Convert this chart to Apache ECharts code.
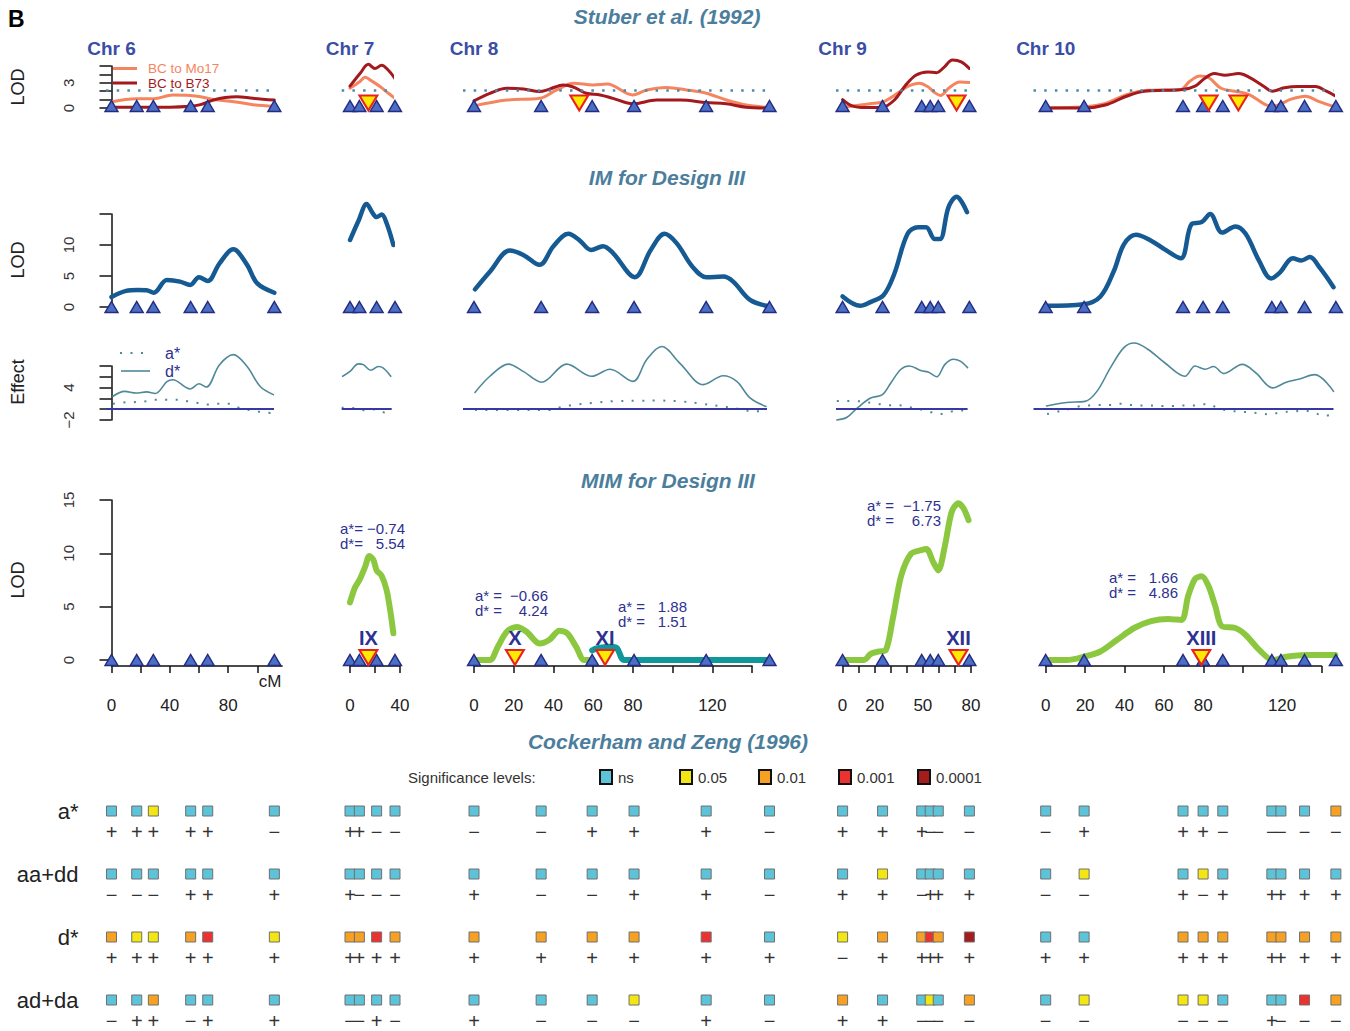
<!DOCTYPE html>
<html>
<head>
<meta charset="utf-8">
<title>QTL profiles, chromosomes 6-10</title>
<script src="https://cdn.jsdelivr.net/npm/echarts@6.0.0/dist/echarts.min.js"></script>
<style>
html, body { margin: 0; padding: 0; background: #ffffff; }
#chart { width: 1350px; height: 1031px; }
</style>
</head>
<body>
<div id="chart"></div>
<script>
// ---------------------------------------------------------------------------
// Data: marker positions (cM) per chromosome
// ---------------------------------------------------------------------------
const chromosomes = ['Chr 6', 'Chr 7', 'Chr 8', 'Chr 9', 'Chr 10'];

const markersChr6 = [0, 17.3, 28.7, 54.3, 66, 111.7];
const markersChr7 = [0, 7.5, 21.3, 36];
const markersChr8 = [0, 33.8, 59.5, 80.6, 116.9, 148.8];
const markersChr9 = [0, 24.9, 49.3, 54.6, 59.6, 79];
const markersChr10 = [0, 19.5, 69.7, 79.9, 89.9, 114.8, 119.4, 131.4, 147.3];

// Stuber et al. (1992): LOD profiles for the two backcrosses
const stuberThreshold = 2.1;
const mo17Chr6 = [[0,0.75],[17,1.1],[29,1.1],[42,1.55],[54,1.5],[61,1.35],[70,1.0],[84,0.75],[97,0.4],[111.7,0.2]];
const b73Chr6 = [[0,0.1],[20,0.1],[40,0.1],[54,0.2],[61,0.4],[70,0.95],[78,1.25],[86,1.35],[97,1.15],[111.7,0.95]];
const mo17Chr7 = [[0,2.35],[8,3.15],[12,3.65],[16,3.35],[24,2.55],[30.7,1.75],[36,1.15]];
const b73Chr7 = [[0,2.6],[8,4.1],[14.7,5.2],[20,4.7],[25.3,5.1],[30.7,4.5],[36,3.5]];
const mo17Chr8 = [[0,0.25],[16.5,0.95],[33,1.15],[41.7,2.15],[50,2.95],[60,2.75],[67,2.85],[80,1.55],[87,2.15],[97,2.45],[107,2.15],[117,1.75],[127,0.95],[137,0.35],[148.6,0.05]];
const b73Chr8 = [[0,0.85],[8,1.75],[16.5,2.35],[25,2.25],[33,1.95],[38,2.25],[45,2.75],[50,2.5],[56.5,1.75],[63.5,1.55],[70,1.15],[80,0.5],[92,0.95],[104,0.95],[117,0.65],[127,0.5],[137,0.1],[148.6,0.0]];
const mo17Chr9 = [[0,0.1],[17,0.5],[26,0.8],[34.6,1.8],[41,2.6],[47.8,2.95],[53,2.55],[57.6,1.8],[61,1.5],[66.4,2.4],[73,3.1],[79,3.05]];
const b73Chr9 = [[0,1.0],[6,0.25],[14,0.05],[25,0.1],[32.5,1.0],[39,2.65],[45.6,3.9],[53,4.3],[58.5,4.2],[63,4.8],[68.4,5.7],[73.9,5.5],[79,4.7]];
const mo17Chr10 = [[0,0],[19.6,0.15],[30.3,0.55],[41,1.6],[51.6,2.1],[68.5,2.2],[73,3.15],[78.3,3.8],[82.8,3.6],[89,2.35],[96,2.0],[103.3,1.6],[112.2,0.35],[115.7,0.25],[124.6,1.05],[131.8,1.4],[138.9,0.75],[146.3,0.15]];
const b73Chr10 = [[0,0],[19.6,0],[30.3,0.35],[41,1.4],[50,2.0],[60.7,2.1],[69.6,2.2],[75.8,2.6],[80.3,3.45],[85.6,4.1],[91,3.9],[98,4.1],[103.4,3.65],[110.6,2.6],[115,2.0],[121.2,2.4],[128.2,2.55],[137,2.55],[142.5,2.0],[147.3,1.4]];
const stuberQtlChr6 = [];
const stuberQtlChr7 = [14.7];
const stuberQtlChr8 = [53];
const stuberQtlChr9 = [71];
const stuberQtlChr10 = [82.7, 97.8];

// Interval mapping (IM) for Design III: LOD profiles
const imChr6 = [[0,1.6],[10,2.6],[18,2.75],[24,2.7],[29,2.3],[38,4.35],[47,4.1],[54,3.55],[60,4.8],[66,4.2],[74,7.0],[83.5,9.3],[93,6.8],[100,3.8],[111.7,2.3]];
const imChr7 = [[0,10.8],[7,14],[13.3,16.6],[18,15.2],[21.3,14.5],[25.3,14.9],[29.3,13.5],[34.7,10.0]];
const imChr8 = [[0.5,2.85],[8,5.7],[18,9.1],[24.8,8.4],[33,6.8],[40,9.8],[47.5,11.8],[53,10.8],[59,9.2],[65,9.8],[70,8.7],[81,4.8],[89,9.2],[96,11.8],[102,10.3],[110,6.5],[117,4.8],[125.5,4.9],[130.5,4.1],[139,1.15],[148,0.15]];
const imChr9 = [[0,1.7],[11,0.2],[17,0.75],[25.6,1.95],[32,5.2],[40.5,11.8],[47,12.85],[52,12.85],[57.5,10.95],[60.7,10.95],[66,16.1],[71,17.8],[77.5,15.3]];
const imChr10 = [[0,0.2],[19.2,0.45],[27.8,1.7],[34.6,5.8],[39.7,10.1],[45.8,11.65],[53.5,10.7],[60.4,9.3],[68.6,7.85],[74.1,13.4],[79.2,13.7],[83.5,15.0],[89.5,12.0],[96.3,13.0],[101.5,11.8],[108.4,7.4],[114.4,4.6],[118.7,5.5],[125.5,7.85],[129.8,7.5],[134.1,8.05],[139.2,6.3],[146.1,3.2]];

// IM effect estimates: dominance (d*) and additive (a*)
const dStarChr6 = [[1,2.4],[9,3.3],[17,3.0],[24,3.2],[30,2.9],[38,5.1],[42,5.45],[54,3.75],[60,4.7],[65,4.1],[74,8.2],[83.5,10.1],[93,7.9],[102,4.2],[111,2.7]];
const aStarChr6 = [[1,1.0],[8,1.25],[15,1.3],[23,1.45],[30,1.75],[38,1.75],[45,1.75],[53,1.45],[59.5,1.15],[66,0.85],[74,1.0],[81,1.0],[88,0.2],[96,-0.2],[104,-0.6],[111,-0.7]];
const dStarChr7 = [[0.7,6.1],[6,7.0],[12,8.4],[15.6,8.25],[21,7.2],[26.4,7.9],[30,7.6],[35.3,6.1]];
const aStarChr7 = [[0,0.25],[8,0.2],[17,-0.2],[25,0.0],[32,-0.7],[35,-0.4]];
const dStarChr8 = [[0.5,3.1],[8,6.1],[17.3,8.35],[24.8,7.0],[34,5.0],[46.7,8.35],[59.3,6.1],[68.5,7.4],[80,5.15],[87,9.2],[94.5,11.6],[103.7,8.5],[115.5,4.55],[125.5,6.2],[132.3,5.15],[139,2.1],[147,0.5]];
const aStarChr8 = [[0.5,-0.15],[20,-0.15],[38,-0.15],[44,0.4],[50,0.8],[60,1.15],[71,1.5],[82,1.55],[93,1.6],[104,1.45],[115,1.0],[125,0.5],[131,0.2],[141.5,-0.4],[146.5,-0.4]];
const dStarChr9 = [[0.5,-2.0],[6.6,-1.5],[12.7,0.2],[20.8,2.06],[27.9,2.7],[33,4.9],[39,7.4],[44,8.0],[51.3,7.1],[55.3,6.9],[60.4,6.0],[65.4,8.3],[70.5,9.25],[74.6,8.9],[79,7.7]];
const aStarChr9 = [[0.5,1.5],[11.7,1.5],[24.9,1.0],[31,0.75],[37.5,0.75],[43.6,0.4],[50.3,0],[55.8,-0.45],[62.4,-0.9],[69,-0.45],[75.6,-0.25],[79,-0.3]];
const dStarChr10 = [[0.4,0.6],[10.6,1.25],[20,1.45],[26,3.3],[32.9,7.7],[39.7,11.4],[44.9,12.25],[51.8,11.1],[60.4,8.6],[70.7,6.1],[75.8,8.0],[80.9,7.4],[85.2,7.9],[90.4,6.6],[99.8,8.3],[106.6,6.75],[115.2,3.95],[122.1,5.0],[128.9,5.6],[136.6,6.4],[146.1,3.3]];
const aStarChr10 = [[0.7,-0.9],[6.3,-0.44],[11.5,0],[16.6,0.5],[21.8,0.7],[26.9,0.8],[32.9,0.8],[38.1,1.0],[43.2,0.8],[49.2,0.7],[54.4,0.7],[60,0.6],[65.5,0.6],[70.7,0.7],[76.6,0.7],[82.3,1.0],[87.5,0.2],[92.9,-0.25],[98.1,-0.44],[103.2,-0.56],[108.4,-0.75],[113.5,-0.95],[119.5,-0.56],[125.2,-0.44],[130.7,-0.25],[135.8,-0.6],[141,-1.2],[146,-1.0]];

// Multiple interval mapping (MIM) for Design III: LOD profiles and QTL
const mimChr6 = [];
const mimChr7 = [[0,5.4],[4,6.8],[8,7.6],[12,8.7],[15.5,9.75],[18.7,9.4],[21.3,8.4],[25.3,7.9],[29.3,6.55],[32.5,4.4],[34.7,2.5]];
const mimChr8 = [[0,0],[8,0],[12,1.25],[16.5,2.65],[21.5,3.1],[26.5,2.65],[33,1.55],[38,1.9],[43,2.75],[47,2.5],[51.4,1.25],[55.5,0],[59.5,0]];
const mimChr8Second = [[59.5,0.9],[62,1.1],[68.5,1.25],[72,1.1],[75.5,0],[90,0],[120,0],[149,0]];
const mimChr9 = [[0,0],[13.3,0],[17.5,0.57],[22.7,0.8],[27,0.95],[31.2,3.8],[36.5,7.9],[42.7,9.97],[49.1,10.3],[52.2,10.4],[56.4,9.2],[59.6,8.4],[63.8,10.75],[68,13.9],[72.2,14.7],[75.4,14.2],[78.5,13.1]];
const mimChr10 = [[0,0],[10.6,0],[19.2,0.3],[27.8,0.8],[36.3,1.9],[44.9,3.0],[53.5,3.65],[62.1,3.85],[68.9,3.75],[72.3,6.0],[75.8,7.6],[79.2,7.85],[82.6,6.95],[86.1,5.05],[89.5,3.15],[96.3,3.0],[101.5,2.35],[108.4,0.95],[115.2,0],[122.1,0.3],[132.4,0.47],[147,0.47]];
const mimQtlChr6 = [];
const mimQtlChr7 = [14.7];
const mimQtlChr8 = [20.6, 66];
const mimQtlChr9 = [72.2];
const mimQtlChr10 = [79];
const mimQtlNamesChr7 = ['IX'];
const mimQtlNamesChr8 = ['X', 'XI'];
const mimQtlNamesChr9 = ['XII'];
const mimQtlNamesChr10 = ['XIII'];
const qtlAStar = ['\u22120.74', '\u22120.66', '1.88', '\u22121.75', '1.66'];
const qtlDStar = ['5.54', '4.24', '1.51', '6.73', '4.86'];

// Cockerham and Zeng (1996): significance level and sign per marker
const sigRows = ['a*', 'aa+dd', 'd*', 'ad+da'];
const sigLevels = ['ns', '0.05', '0.01', '0.001', '0.0001'];
const sigChr6 = [
  ['ns','ns','0.05','ns','ns','ns'],
  ['ns','ns','ns','ns','ns','ns'],
  ['0.01','0.05','0.05','0.01','0.001','0.05'],
  ['ns','ns','0.01','ns','ns','ns']];
const signsChr6 = ['+++++\u2212', '\u2212\u2212\u2212+++', '++++++', '\u2212++\u2212++'];
const sigChr7 = [
  ['ns','ns','ns','ns'],
  ['ns','ns','ns','ns'],
  ['0.01','0.01','0.001','0.01'],
  ['ns','ns','ns','ns']];
const signsChr7 = ['++\u2212\u2212', '+\u2212\u2212\u2212', '++++', '\u2212\u2212+\u2212'];
const sigChr8 = [
  ['ns','ns','ns','ns','ns','ns'],
  ['ns','ns','ns','ns','ns','ns'],
  ['0.01','0.01','0.01','0.01','0.001','ns'],
  ['ns','ns','ns','0.05','ns','ns']];
const signsChr8 = ['\u2212\u2212+++\u2212', '+\u2212\u2212++\u2212', '++++++', '+\u2212\u2212\u2212+\u2212'];
const sigChr9 = [
  ['ns','ns','ns','ns','ns','ns'],
  ['ns','0.05','ns','ns','ns','ns'],
  ['0.05','0.01','0.01','0.001','0.01','0.0001'],
  ['0.01','ns','ns','0.05','ns','0.01']];
const signsChr9 = ['+++\u2212\u2212\u2212', '++\u2212+++', '\u2212+++++', '++\u2212\u2212\u2212\u2212'];
const sigChr10 = [
  ['ns','ns','ns','ns','ns','ns','ns','ns','0.01'],
  ['ns','0.05','ns','0.05','ns','ns','ns','ns','ns'],
  ['ns','ns','0.01','0.01','0.01','0.01','0.01','0.01','0.01'],
  ['ns','0.05','0.05','0.05','ns','ns','ns','0.001','0.01']];
const signsChr10 = ['\u2212+++\u2212\u2212\u2212\u2212\u2212', '\u2212\u2212+\u2212+++++', '+++++++++', '\u2212\u2212\u2212\u2212\u2212+\u2212\u2212\u2212'];

// Axis ticks and tick labels
const cmTicksChr6 = [0, 20, 40, 60, 80, 100];
const cmTicksChr7 = [0, 20, 40];
const cmTicksChr8 = [0, 20, 40, 60, 80, 100, 120, 140];
const cmTicksChr9 = [0, 10, 20, 30, 40, 50, 60, 70, 80];
const cmTicksChr10 = [0, 20, 40, 60, 80, 100, 120, 140];
const cmLabelsChr6 = [0, 40, 80];
const cmLabelsChr7 = [0, 40];
const cmLabelsChr8 = [0, 20, 40, 60, 80, 120];
const cmLabelsChr9 = [0, 20, 50, 80];
const cmLabelsChr10 = [0, 20, 40, 60, 80, 120];
const stuberTicks = [0, 1, 2, 3, 4, 5];
const stuberLabels = [0, 3];
const imTicks = [0, 5, 10, 15];
const imLabels = [0, 5, 10];
const effectTicks = [-2, 0, 2, 4, 6, 8];
const effectLabels = [-2, 4];
const mimTicks = [0, 5, 10, 15];
const mimLabels = [0, 5, 10, 15];

// ---------------------------------------------------------------------------
// Styling and layout
// ---------------------------------------------------------------------------
const FONT = '"Liberation Sans", Arial, Helvetica, sans-serif';
const COL = {
  mo17: '#f4855f', b73: '#a3191d', thr: '#4c89a8',
  im: '#165a93', eff: '#4f8899', zero: '#3838a4',
  mim: '#8cc83f', mim2: '#10979a',
  markFill: '#4b6fc3', markLine: '#232b83',
  qtlFill: '#ffea00', qtlLine: '#e8231f',
  navy: '#2d3190', chr: '#3b4da5', head: '#4b7e9c', axis: '#111111', tick: '#222222'
};
const SIG_COLOR = { 'ns': '#5cc3d8', '0.05': '#f3e612', '0.01': '#f5a124', '0.001': '#ec3131', '0.0001': '#a41c1c' };

// per-chromosome horizontal scale: x0 = pixel of 0 cM, s = pixels per cM
const columns = [
  { x0: 111.5, s: 1.458, axisMax: 117, effLeft: 106, effRight: 274, effMin: null, effMax: null },
  { x0: 350, s: 1.25, axisMax: 40, effLeft: 341.7, effRight: 391.7, effMin: 0, effMax: 36 },
  { x0: 474, s: 1.986, axisMax: 140, effLeft: 463, effRight: 767, effMin: null, effMax: null },
  { x0: 842.6, s: 1.605, axisMax: 80, effLeft: 836, effRight: 967.6, effMin: 0, effMax: 79 },
  { x0: 1045.7, s: 1.97, axisMax: 140, effLeft: 1033.5, effRight: 1333.5, effMin: null, effMax: null }
];
const rows = {
  stuber: { top: 66, bottom: 108 },
  im: { top: 214, bottom: 307 },
  effect: { top: 366, bottom: 420 },
  mim: { top: 500, bottom: 660 },
  sig: { top: 811, bottom: 1000 }
};

const colData = [
  { markers: markersChr6, mo17: mo17Chr6, b73: b73Chr6, sQtl: stuberQtlChr6, im: imChr6, d: dStarChr6, a: aStarChr6, mim: mimChr6, mim2: null, mQtl: mimQtlChr6, mNames: [], sig: sigChr6, signs: signsChr6, ticks: cmTicksChr6, labels: cmLabelsChr6 },
  { markers: markersChr7, mo17: mo17Chr7, b73: b73Chr7, sQtl: stuberQtlChr7, im: imChr7, d: dStarChr7, a: aStarChr7, mim: mimChr7, mim2: null, mQtl: mimQtlChr7, mNames: mimQtlNamesChr7, sig: sigChr7, signs: signsChr7, ticks: cmTicksChr7, labels: cmLabelsChr7 },
  { markers: markersChr8, mo17: mo17Chr8, b73: b73Chr8, sQtl: stuberQtlChr8, im: imChr8, d: dStarChr8, a: aStarChr8, mim: mimChr8, mim2: mimChr8Second, mQtl: mimQtlChr8, mNames: mimQtlNamesChr8, sig: sigChr8, signs: signsChr8, ticks: cmTicksChr8, labels: cmLabelsChr8 },
  { markers: markersChr9, mo17: mo17Chr9, b73: b73Chr9, sQtl: stuberQtlChr9, im: imChr9, d: dStarChr9, a: aStarChr9, mim: mimChr9, mim2: null, mQtl: mimQtlChr9, mNames: mimQtlNamesChr9, sig: sigChr9, signs: signsChr9, ticks: cmTicksChr9, labels: cmLabelsChr9 },
  { markers: markersChr10, mo17: mo17Chr10, b73: b73Chr10, sQtl: stuberQtlChr10, im: imChr10, d: dStarChr10, a: aStarChr10, mim: mimChr10, mim2: null, mQtl: mimQtlChr10, mNames: mimQtlNamesChr10, sig: sigChr10, signs: signsChr10, ticks: cmTicksChr10, labels: cmLabelsChr10 }
];

// ---------------------------------------------------------------------------
// Option builders
// ---------------------------------------------------------------------------
const grid = [], xAxis = [], yAxis = [], series = [];
const hidden = { show: false, splitLine: { show: false } };
const minus = v => String(v).replace('-', '\u2212');

function panel(left, right, row, xmin, xmax, ymin, ymax, xOpt, yOpt) {
  const i = grid.length;
  grid.push({ left: left, top: row.top, width: right - left, height: row.bottom - row.top });
  xAxis.push(Object.assign({ gridIndex: i, type: 'value', min: xmin, max: xmax }, hidden, xOpt || {}));
  yAxis.push(Object.assign({ gridIndex: i, type: 'value', min: ymin, max: ymax }, hidden, yOpt || {}));
  return i;
}

function leftAxis(ticks, labels, offset) {
  return {
    show: true, position: 'left', offset: offset || 0,
    axisLine: { show: true, lineStyle: { color: COL.axis, width: 1.5 } },
    axisTick: { show: true, length: 12, customValues: ticks, lineStyle: { color: COL.axis, width: 1.5 } },
    axisLabel: { show: true, rotate: 90, fontSize: 15, color: '#333', margin: 30, customValues: labels, formatter: minus },
    splitLine: { show: false }
  };
}

function curve(gi, data, color, width, extra) {
  series.push(Object.assign({
    type: 'line', xAxisIndex: gi, yAxisIndex: gi, data: data,
    symbol: 'none', showSymbol: false, smooth: 0.35, clip: false, silent: true, z: 2,
    lineStyle: { color: color, width: width, cap: 'round', join: 'round' }
  }, extra || {}));
}

function markerSeries(gi, pos, dy) {
  series.push({
    type: 'scatter', xAxisIndex: gi, yAxisIndex: gi, clip: false, silent: true, z: 4,
    data: pos.map(p => [p, 0]), symbol: 'triangle', symbolSize: [13, 11], symbolOffset: [0, dy],
    itemStyle: { color: COL.markFill, borderColor: COL.markLine, borderWidth: 1.4, opacity: 1 }
  });
}

function qtlSeries(gi, pos, names, dy) {
  if (!pos.length) return;
  series.push({
    type: 'scatter', xAxisIndex: gi, yAxisIndex: gi, clip: false, silent: true, z: 5,
    data: pos.map((p, k) => ({ value: [p, 0], name: names[k] || '' })),
    symbol: 'path://M0,0 L20,0 L10,17 Z', symbolSize: [18, 15], symbolOffset: [0, dy],
    itemStyle: { color: COL.qtlFill, borderColor: COL.qtlLine, borderWidth: 2, opacity: 1 },
    label: { show: names.length > 0, position: 'top', distance: 1, formatter: '{b}',
             fontSize: 20, fontWeight: 'bold', color: COL.navy }
  });
}

function sigSeries(gi, pos, levels, signs) {
  const data = [];
  levels.forEach((row, r) => {
    const sg = Array.from(signs[r]);
    row.forEach((lv, k) => data.push({
      value: [pos[k], r],
      itemStyle: { color: SIG_COLOR[lv] },
      label: { formatter: sg[k] }
    }));
  });
  series.push({
    type: 'scatter', xAxisIndex: gi, yAxisIndex: gi, clip: false, silent: true, z: 3,
    symbol: 'rect', symbolSize: [10, 10],
    itemStyle: { borderColor: '#707070', borderWidth: 1, opacity: 1 },
    label: { show: true, position: 'bottom', distance: 5, fontSize: 20, color: '#333' },
    labelLayout: { hideOverlap: false },
    data: data
  });
}

columns.forEach((c, i) => {
  const d = colData[i];
  const lodMin = (c.effLeft - c.x0) / c.s;
  const lodMax = (c.effRight - c.x0) / c.s;
  const first = i === 0;
  const axisRight = c.x0 + c.axisMax * c.s;

  // Stuber et al. backcross LOD curves with threshold
  const gS = panel(c.effLeft, c.effRight, rows.stuber, lodMin, lodMax, 0, 5, null,
    first ? leftAxis(stuberTicks, stuberLabels) : null);
  curve(gS, d.mo17, COL.mo17, 3, {
    markLine: { silent: true, symbol: 'none', label: { show: false },
      lineStyle: { color: COL.thr, width: 2.5, type: [2.5, 8.2] },
      data: [{ yAxis: stuberThreshold }] }
  });
  curve(gS, d.b73, COL.b73, 3);
  markerSeries(gS, d.markers, -2);
  qtlSeries(gS, d.sQtl, [], -5);

  // IM LOD curve
  const gI = panel(c.effLeft, c.effRight, rows.im, lodMin, lodMax, 0, 15, null,
    first ? leftAxis(imTicks, imLabels) : null);
  curve(gI, d.im, COL.im, 4.5);
  markerSeries(gI, d.markers, 0);

  // Effect estimates
  const gE = panel(c.effLeft, c.effRight, rows.effect,
    c.effMin === null ? lodMin : c.effMin, c.effMax === null ? lodMax : c.effMax, -2, 8, null,
    first ? leftAxis(effectTicks, effectLabels) : null);
  curve(gE, d.a, COL.eff, 2, { z: 1, lineStyle: { color: COL.eff, width: 2, type: [2, 8.5], cap: 'butt' } });
  curve(gE, d.d, COL.eff, 1.6, {
    markLine: { silent: true, symbol: 'none', label: { show: false },
      lineStyle: { color: COL.zero, width: 2, type: 'solid' }, data: [{ yAxis: 0 }] }
  });

  // MIM: cM axis frame (and LOD axis on the first chromosome)
  panel(c.x0, axisRight, rows.mim, 0, c.axisMax, 0, 15, {
      show: true, position: 'bottom', offset: 6,
      axisLine: { show: true, onZero: false, lineStyle: { color: COL.axis, width: 1.5 } },
      axisTick: { show: true, length: 7, customValues: d.ticks, lineStyle: { color: COL.axis, width: 1.5 } },
      axisLabel: { show: true, fontSize: 17, color: COL.tick, margin: 31, customValues: d.labels },
      splitLine: { show: false }
    },
    first ? leftAxis(mimTicks, mimLabels, c.x0 - c.effLeft) : null);

  // MIM LOD curves, markers and QTL over the full marker span
  const gM = panel(c.effLeft, c.effRight + 12, rows.mim, lodMin, lodMax + 12 / c.s, 0, 15);
  if (d.mim.length) curve(gM, d.mim, COL.mim, 6, { smooth: 0.3 });
  if (d.mim2) curve(gM, d.mim2, COL.mim2, 6, { smooth: 0.3 });
  markerSeries(gM, d.markers, 0);
  qtlSeries(gM, d.mQtl, d.mNames, -2.5);

  // Significance grid
  const gG = panel(c.x0, axisRight, rows.sig, 0, c.axisMax, 0, 3, null, first ? {
    show: true, inverse: true, interval: 1,
    axisLine: { show: false }, axisTick: { show: false }, splitLine: { show: false },
    axisLabel: { show: true, fontSize: 22, color: '#222', margin: 33, formatter: v => sigRows[v] || '' }
  } : { inverse: true });
  sigSeries(gG, d.markers, d.sig, d.signs);
});

// ---------------------------------------------------------------------------
// Titles, legends and annotations
// ---------------------------------------------------------------------------
function text(x, y, str, size, color, weight, align, extra) {
  return Object.assign({
    type: 'text', x: x, y: y, silent: true,
    style: { text: str, fill: color, font: (weight || '') + ' ' + size + 'px ' + FONT,
             align: align || 'left', verticalAlign: 'middle' }
  }, extra || {});
}
function hline(x1, x2, y, color, width, dash) {
  return { type: 'line', silent: true, shape: { x1: x1, y1: y, x2: x2, y2: y },
           style: { stroke: color, lineWidth: width, lineDash: dash || null } };
}

const g = [];
g.push(text(8, 19, 'B', 23, '#000', 'bold'));
g.push(text(667, 16, 'Stuber et al. (1992)', 21, COL.head, 'italic bold', 'center'));
g.push(text(667, 177, 'IM for Design III', 21, COL.head, 'italic bold', 'center'));
g.push(text(668, 480, 'MIM for Design III', 21, COL.head, 'italic bold', 'center'));
g.push(text(668, 741, 'Cockerham and Zeng (1996)', 21, COL.head, 'italic bold', 'center'));
columns.forEach((c, i) => g.push(text(c.x0, 48, chromosomes[i], 19, COL.chr, 'bold', 'center')));

// axis titles
const rot = { rotation: Math.PI / 2 };
g.push(text(18, 87, 'LOD', 18, '#222', '', 'center', rot));
g.push(text(18, 260, 'LOD', 18, '#222', '', 'center', rot));
g.push(text(18, 382, 'Effect', 18, '#222', '', 'center', rot));
g.push(text(18, 580, 'LOD', 18, '#222', '', 'center', rot));
g.push(text(270, 681, 'cM', 17, COL.tick, '', 'center'));

// backcross legend
g.push(hline(113, 137, 68.5, COL.mo17, 3));
g.push(text(148, 68.5, 'BC to Mo17', 13.5, COL.mo17));
g.push(hline(113, 137, 83, COL.b73, 3));
g.push(text(148, 83, 'BC to B73', 13.5, COL.b73));

// effect legend
g.push(hline(120, 147, 353, COL.eff, 2, [2, 8.5]));
g.push(text(165, 353, 'a*', 16, COL.navy));
g.push(hline(121, 150, 371, COL.eff, 1.6));
g.push(text(165, 371, 'd*', 16, COL.navy));

// MIM QTL effect estimates (label left-aligned, value right-aligned)
const notes = [
  { xl: 340, xr: 405, ya: 528.5, yd: 543.5, la: 'a*=', ld: 'd*=' },
  { xl: 475, xr: 548, ya: 595, yd: 610, la: 'a* =', ld: 'd* =' },
  { xl: 618, xr: 687, ya: 606.5, yd: 621.5, la: 'a* =', ld: 'd* =' },
  { xl: 867, xr: 941, ya: 505.5, yd: 520.5, la: 'a* =', ld: 'd* =' },
  { xl: 1109, xr: 1178, ya: 577, yd: 592, la: 'a* =', ld: 'd* =' }
];
notes.forEach((n, k) => {
  g.push(text(n.xl, n.ya, n.la, 15, COL.navy));
  g.push(text(n.xr, n.ya, qtlAStar[k], 15, COL.navy, '', 'right'));
  g.push(text(n.xl, n.yd, n.ld, 15, COL.navy));
  g.push(text(n.xr, n.yd, qtlDStar[k], 15, COL.navy, '', 'right'));
});

// significance legend
g.push(text(408, 777, 'Significance levels:', 15, '#333'));
const legendX = [600, 680, 759, 839, 918];
sigLevels.forEach((lv, k) => {
  g.push({ type: 'rect', silent: true, shape: { x: legendX[k], y: 770, width: 12, height: 14 },
           style: { fill: SIG_COLOR[lv], stroke: '#111', lineWidth: 2 } });
  g.push(text(legendX[k] + 18, 777, lv, 15, '#333'));
});

const chart = echarts.init(document.getElementById('chart'), null, { renderer: 'svg' });
chart.setOption({
  animation: false,
  backgroundColor: '#ffffff',
  textStyle: { fontFamily: FONT },
  grid: grid,
  xAxis: xAxis,
  yAxis: yAxis,
  series: series,
  graphic: { elements: g }
});
</script>
</body>
</html>
